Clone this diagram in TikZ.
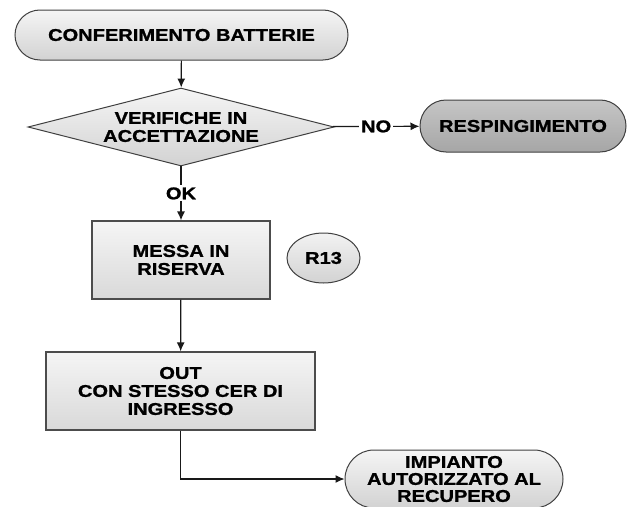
\documentclass[tikz,border=0pt]{standalone}
\usepackage{fontspec}
\setmainfont{Liberation Sans}[FakeStretch=1.18,BoldFeatures={FakeBold=1.2}]
\usetikzlibrary{shapes.geometric,arrows.meta}
\begin{document}
\begin{tikzpicture}[x=1pt,y=-1pt,
    every node/.style={font=\fontsize{17}{18}\selectfont\bfseries,align=center,inner sep=0pt},
    term/.style={draw=black!75,line width=1pt,top color=gray!8,bottom color=gray!35},
    proc/.style={draw=black!70,line width=1.2pt,top color=gray!8,bottom color=gray!30},
    flow/.style={-{Latex[length=9pt,width=8pt]},line width=1.2pt,draw=black!90},
    lbl/.style={fill=white,inner sep=2pt}]
\useasboundingbox (0,0) rectangle (629,506);
\node[term,rounded corners=25pt,minimum width=333pt,minimum height=50pt] (conf) at (181.5,35) {CONFERIMENTO BATTERIE};
\node[draw=black!75,line width=1pt,diamond,aspect=3.9,minimum width=306pt,minimum height=78pt,top color=gray!8,bottom color=gray!35] (verif) at (181,127) {VERIFICHE IN\\ACCETTAZIONE};
\node[term,rounded corners=26pt,minimum width=206pt,minimum height=52pt,top color=gray!45,bottom color=gray!70] (resp) at (523,126) {RESPINGIMENTO};
\node[proc,minimum width=178pt,minimum height=78pt] (messa) at (181,260) {MESSA IN\\RISERVA};
\node[draw=black!75,line width=1pt,ellipse,minimum width=73pt,minimum height=50pt,top color=gray!10,bottom color=gray!35] (r13) at (323.5,258) {R13};
\node[proc,minimum width=269pt,minimum height=78pt] (out) at (180.5,391) {OUT\\CON STESSO CER DI\\INGRESSO};
\node[term,rounded corners=29pt,minimum width=218pt,minimum height=58pt,font=\fontsize{17}{17}\selectfont\bfseries] (imp) at (454,479) {IMPIANTO\\AUTORIZZATO AL\\RECUPERO};
\draw[flow] (conf) -- (verif);
\draw[flow] (verif) -- node[lbl]{NO} (resp);
\draw[flow] (verif) -- node[lbl]{OK} (messa);
\draw[flow] (messa) -- (out);
\draw[flow] (out) |- (imp);
\end{tikzpicture}
\end{document}
